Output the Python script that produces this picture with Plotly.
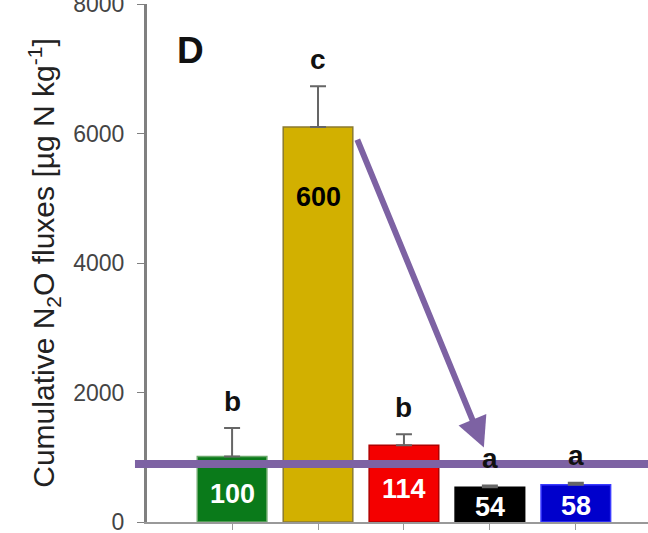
import plotly.graph_objects as go

# Data
categories = ["T1", "T2", "T3", "T4", "T5"]
values = [1010, 6100, 1185, 535, 575]
errors = [440, 630, 170, 30, 30]
bar_labels = ["100", "600", "114", "54", "58"]
sig_letters = ["b", "c", "b", "a", "a"]
y_ticks = [0, 2000, 4000, 6000, 8000]

bar_colors = ["#0a7a1a", "#d2b000", "#f40000", "#000000", "#0000cc"]
line_colors = ["#6aa86a", "#8a7a30", "#b00000", "#000000", "#3a3aff"]
label_colors = ["white", "black", "white", "white", "white"]
purple = "#7d62a3"
FONT = "Liberation Sans, Arial, sans-serif"

x = list(range(len(categories)))

fig = go.Figure()
fig.add_trace(go.Bar(
    x=x, y=values, width=0.81,
    marker=dict(color=bar_colors, line=dict(color=line_colors, width=1.5)),
    error_y=dict(type="data", array=errors, arrayminus=[0] * len(values),
                 symmetric=False, color="#666666", thickness=2, width=8),
    showlegend=False, hoverinfo="skip",
))

annotations = []
for i, (v, e, lab, let, lc) in enumerate(zip(values, errors, bar_labels, sig_letters, label_colors)):
    annotations.append(dict(x=i, y=v + e, xref="x", yref="y", text=f"<b>{let}</b>", showarrow=False,
                            yanchor="middle", yshift=27,
                            font=dict(family=FONT, size=28, color="#111111")))
    ly = v * 0.43 if v < 3000 else v - 1080
    annotations.append(dict(x=i, y=ly, xref="x", yref="y", text=f"<b>{lab}</b>", showarrow=False,
                            yanchor="middle",
                            font=dict(family=FONT, size=27, color=lc)))

# panel letter
annotations.append(dict(x=0.055, y=0.91, xref="paper", yref="paper", text="<b>D</b>",
                        showarrow=False, xanchor="left", yanchor="middle",
                        font=dict(family=FONT, size=37, color="#111111")))
# purple arrow
annotations.append(dict(x=2.93, y=1150, xref="x", yref="y", ax=1.45, ay=5930,
                        axref="x", ayref="y", text="", showarrow=True,
                        arrowhead=2, arrowsize=1.0, arrowwidth=6, arrowcolor=purple,
                        standoff=0))

fig.update_layout(
    width=648, height=533,
    margin=dict(l=147, r=0, t=4, b=11, autoexpand=False),
    paper_bgcolor="white", plot_bgcolor="white",
    font=dict(family=FONT),
    bargap=0.19,
    annotations=annotations,
    shapes=[dict(type="line", xref="paper", yref="paper", x0=-0.024, x1=1.0,
                 y0=0.112, y1=0.112, line=dict(color=purple, width=8), layer="above")],
    xaxis=dict(range=[-0.99, 4.84], tickvals=x, showticklabels=False, automargin=False,
               showgrid=False, zeroline=False, showline=True, linecolor="#999999",
               linewidth=2, ticks="outside", ticklen=6, tickcolor="#999999", tickwidth=1),
    yaxis=dict(range=[0, 8000], tickvals=y_ticks, ticktext=[str(t) for t in y_ticks],
               automargin=False,
               showgrid=False, zeroline=False, showline=True, linecolor="#808080",
               linewidth=3, ticks="outside", ticklen=7, tickcolor="#808080", tickwidth=1,
               tickfont=dict(family=FONT, size=23, color="#444444"),
               ticklabelstandoff=8, ticklabeloverflow="allow",
               title=dict(text="Cumulative N<sub>2</sub>O fluxes [µg N kg<sup>-1</sup>]",
                          font=dict(family=FONT, size=30, color="#222222"), standoff=10)),
)

fig.write_html("out.html")
